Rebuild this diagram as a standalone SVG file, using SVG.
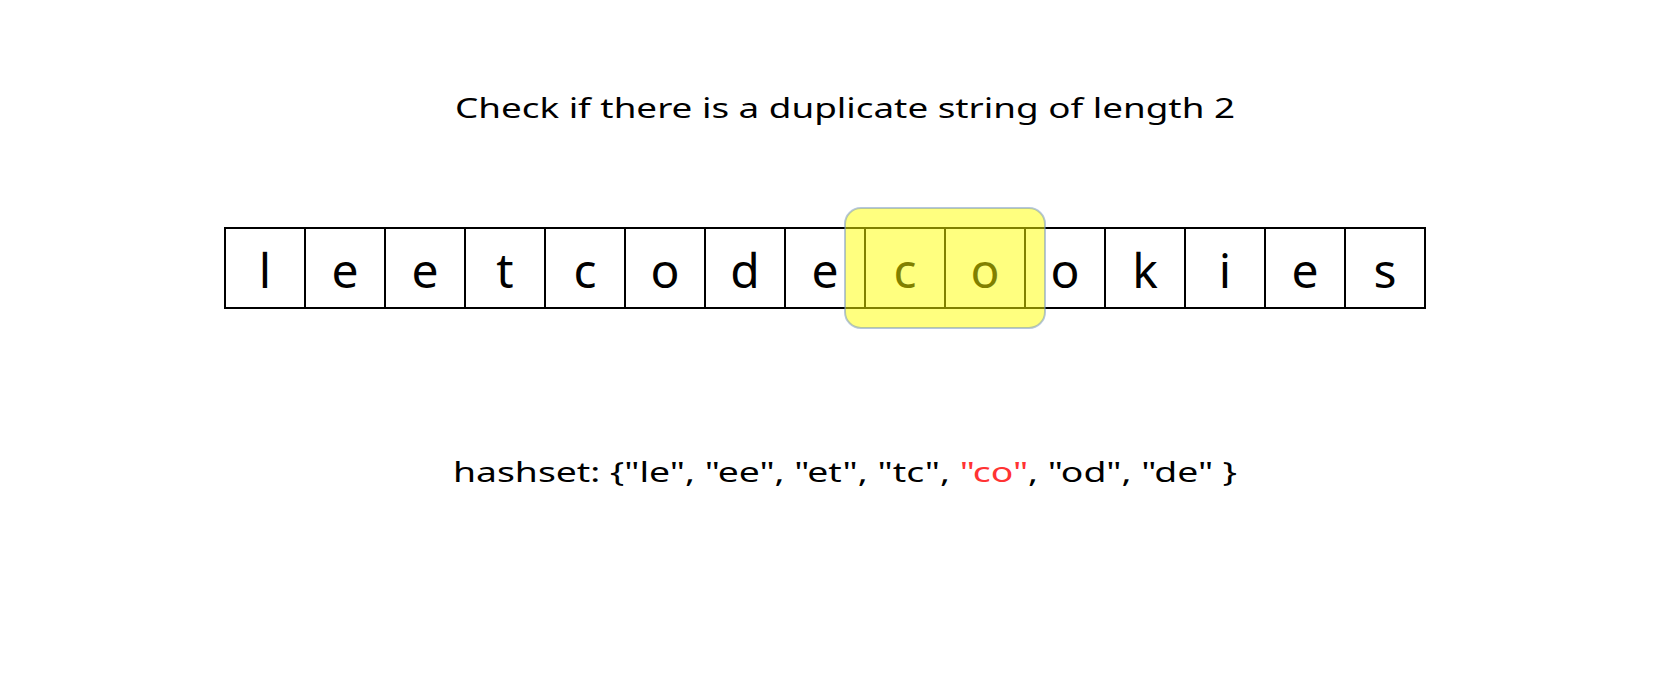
<svg xmlns="http://www.w3.org/2000/svg" width="1672" height="688" viewBox="0 0 1672 688">
<style>
.t{font-family:"Comic Sans MS","Noto Sans","DejaVu Sans",sans-serif;fill:#000}
.cell{fill:#fff;stroke:#000;stroke-width:2}
.ch{font-size:48px;text-anchor:middle}
.lbl{font-size:28px;text-anchor:middle}
</style>
<rect width="1672" height="688" fill="#fff"/>
<g id="title"><text class="t lbl" x="845" y="118" textLength="780" lengthAdjust="spacingAndGlyphs">Check if there is a duplicate string of length 2</text></g>
<g id="cells">
<g id="c0"><rect class="cell" x="225" y="228" width="80" height="80"/><text class="t ch" x="265" y="288">l</text></g>
<g id="c1"><rect class="cell" x="305" y="228" width="80" height="80"/><text class="t ch" x="345" y="288">e</text></g>
<g id="c2"><rect class="cell" x="385" y="228" width="80" height="80"/><text class="t ch" x="425" y="288">e</text></g>
<g id="c3"><rect class="cell" x="465" y="228" width="80" height="80"/><text class="t ch" x="505" y="288">t</text></g>
<g id="c4"><rect class="cell" x="545" y="228" width="80" height="80"/><text class="t ch" x="585" y="288">c</text></g>
<g id="c5"><rect class="cell" x="625" y="228" width="80" height="80"/><text class="t ch" x="665" y="288">o</text></g>
<g id="c6"><rect class="cell" x="705" y="228" width="80" height="80"/><text class="t ch" x="745" y="288">d</text></g>
<g id="c7"><rect class="cell" x="785" y="228" width="80" height="80"/><text class="t ch" x="825" y="288">e</text></g>
<g id="c8"><rect class="cell" x="865" y="228" width="80" height="80"/><text class="t ch" x="905" y="288">c</text></g>
<g id="c9"><rect class="cell" x="945" y="228" width="80" height="80"/><text class="t ch" x="985" y="288">o</text></g>
<g id="c10"><rect class="cell" x="1025" y="228" width="80" height="80"/><text class="t ch" x="1065" y="288">o</text></g>
<g id="c11"><rect class="cell" x="1105" y="228" width="80" height="80"/><text class="t ch" x="1145" y="288">k</text></g>
<g id="c12"><rect class="cell" x="1185" y="228" width="80" height="80"/><text class="t ch" x="1225" y="288">i</text></g>
<g id="c13"><rect class="cell" x="1265" y="228" width="80" height="80"/><text class="t ch" x="1305" y="288">e</text></g>
<g id="c14"><rect class="cell" x="1345" y="228" width="80" height="80"/><text class="t ch" x="1385" y="288">s</text></g>
</g>
<g id="highlight"><rect x="845" y="208" width="200" height="120" rx="16" ry="16" fill="#ffff00" fill-opacity="0.5" stroke="#6c8ebf" stroke-opacity="0.5" stroke-width="2"/></g>
<g id="hashset"><text class="t lbl" x="845" y="482" textLength="784" lengthAdjust="spacingAndGlyphs">hashset: {"le", "ee", "et", "tc", <tspan fill="#ff3333">"co"</tspan>, "od", "de" }</text></g>
<g id="connectors"/>
</svg>
